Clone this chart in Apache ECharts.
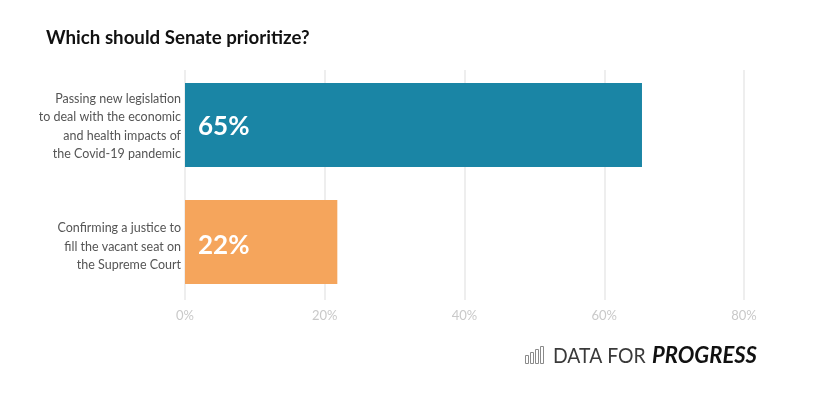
<!DOCTYPE html>
<html><head><meta charset="utf-8">
<style>html,body{margin:0;padding:0;background:#fff}#c{width:835px;height:394px}</style>
<script src="https://cdn.jsdelivr.net/npm/echarts@6/dist/echarts.min.js"></script>
</head><body><div id="c"></div>
<script>
const categories = ["Passing new legislation\nto deal with the economic\nand health impacts of\nthe Covid-19 pandemic","Confirming a justice to\nfill the vacant seat on\nthe Supreme Court"];
const values = [65.4, 21.8];
const labels = ["65%","22%"];
const colors = ["#1a85a5","#f5a55c"];
const title = "Which should Senate prioritize?";
const F = "Lato";
const labelShift = [2,4];
const barRect = (x,y,w,h)=>({type:'rect',shape:{x,y,width:w,height:h},style:{fill:'none',stroke:'#8a8a8a',lineWidth:1}});
const chart = echarts.init(document.getElementById('c'));
chart.setOption({
  animation:false,
  backgroundColor:'#fff',
  title:{text:title,left:41,top:23,textStyle:{fontFamily:F,fontSize:18.7,fontWeight:'bold',color:'#111'}},
  grid:[
    {left:185,top:70,width:559,height:230},
    {left:185,top:66.5,width:559,height:234},
    {left:185,top:66.5,width:559,height:240}
  ],
  xAxis:[
    {gridIndex:0,type:'value',min:0,max:80,interval:20,
      axisLabel:{formatter:'{value}%',color:'#c9c9c9',fontFamily:F,fontSize:13,margin:9},
      axisLine:{show:false},axisTick:{show:false},
      splitLine:{show:true,lineStyle:{color:'#eeeeee',width:2}}},
    {gridIndex:1,type:'value',min:0,max:80,interval:20,show:false},
    {gridIndex:2,type:'value',min:0,max:80,interval:20,show:false}
  ],
  yAxis:[
    {gridIndex:0,type:'category',data:[],show:false},
    {gridIndex:1,type:'category',inverse:true,data:categories,show:false},
    {gridIndex:2,type:'category',inverse:true,data:categories,
      axisLine:{show:false},axisTick:{show:false},splitLine:{show:false},
      axisLabel:{color:'#555',fontFamily:F,fontSize:12.5,lineHeight:18.3,margin:4,align:'right'}}
  ],
  series:[{type:'bar',xAxisIndex:1,yAxisIndex:1,barWidth:84,silent:true,
    data:values.map((v,i)=>({value:v,itemStyle:{color:colors[i]},
      label:{show:true,position:'insideLeft',distance:13,offset:[0,labelShift[i]],formatter:labels[i],color:'#fff',fontFamily:F,fontWeight:'bold',fontSize:26}}))}],
  graphic:[
    {type:'group',x:525,y:346,children:[
      barRect(0.5,9.5,3,8), barRect(5.5,6.5,3,11), barRect(10.5,3.5,3,14), barRect(15.5,0.5,3,17)
    ]},
    {type:'text',x:553,y:345,scaleX:0.9,style:{text:'DATA FOR',fill:'#3a3a3a',font:'21.5px Lato'}},
    {type:'text',x:652,y:345,style:{text:'PROGRESS',fill:'#111',font:'italic bold 22px Lato'}}
  ]
});
</script></body></html>
